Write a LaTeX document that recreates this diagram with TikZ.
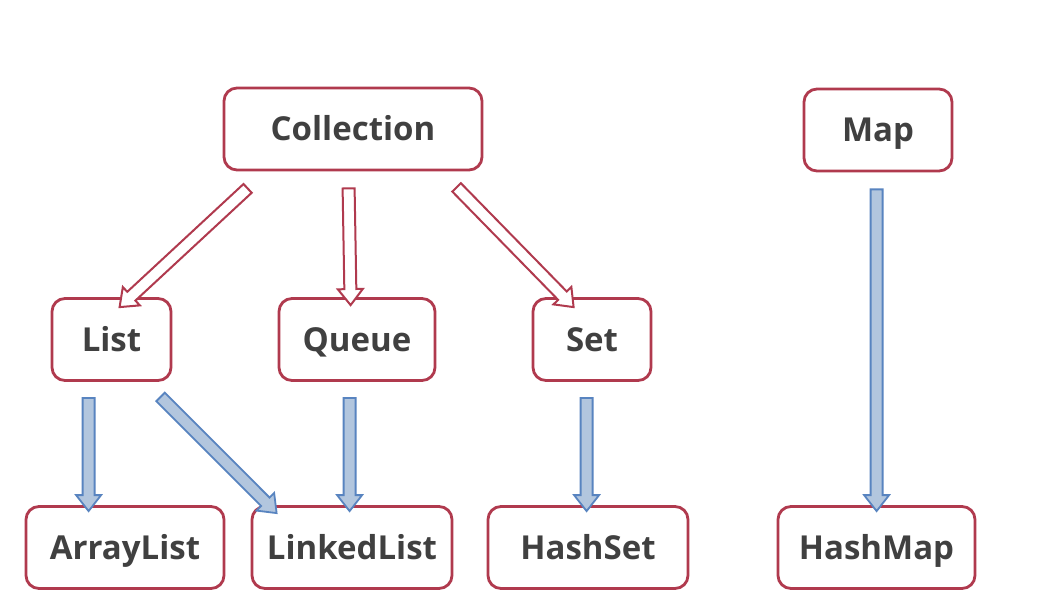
\documentclass[tikz,border=0pt]{standalone}
\usepackage{fontspec}
\setmainfont{Open Sans}
\usetikzlibrary{calc}
\definecolor{boxred}{RGB}{176,58,78}
\definecolor{txt}{RGB}{64,64,64}
\definecolor{bluel}{RGB}{88,132,192}
\definecolor{bluef}{RGB}{178,198,222}
\tikzset{
  cbox/.style={draw=boxred, line width=2.8pt, rounded corners=13pt, fill=white,
    font=\bfseries\fontsize{33}{36}\selectfont, text=txt, minimum height=82pt, inner sep=0pt,
    text height=23.5pt, text depth=0pt},
  redarrow/.style={draw=boxred, line width=2pt, fill=white, line join=miter},
  bluearrow/.style={draw=bluel, line width=1.8pt, fill=bluef, line join=miter}
}
\newcommand{\blockarrow}[3]{%
  \coordinate (tmpC) at ($(#3)!16pt!(#2)$);
  \draw[#1] ($(#2)!6pt!90:(#3)$) -- ($(tmpC)!6pt!90:(#3)$) -- ($(tmpC)!12.5pt!90:(#3)$) -- (#3)
    -- ($(tmpC)!12.5pt!-90:(#3)$) -- ($(tmpC)!6pt!-90:(#3)$) -- ($(#2)!6pt!-90:(#3)$) -- cycle;}
\begin{document}
\begin{tikzpicture}[x=1pt,y=-1pt]
\useasboundingbox[fill=white] (0,0) rectangle (1046,601);
\node[cbox, minimum width=258pt] (coll) at (353,129) {Collection};
\node[cbox, minimum width=148pt] (map) at (878,130) {Map};
\node[cbox, minimum width=119pt] (list) at (111.5,339.5) {List};
\node[cbox, minimum width=156pt] (queue) at (357,339.5) {Queue};
\node[cbox, minimum width=118pt] (set) at (592,339.5) {Set};
\node[cbox, minimum width=198pt] (alist) at (125,547.5) {ArrayList};
\node[cbox, minimum width=200pt] (llist) at (352,547.5) {LinkedList};
\node[cbox, minimum width=200pt] (hset) at (588,547.5) {HashSet};
\node[cbox, minimum width=197pt] (hmap) at (876.5,547.5) {HashMap};
% connector end points
\coordinate (c1s) at ($(coll.south west)+(25,17)$);
\coordinate (c1e) at ($(list.north west)+(69,10)$);
\coordinate (c2s) at ($(coll.south west)+(126,17)$);
\coordinate (c2e) at ($(queue.north west)+(73,8)$);
\coordinate (c3s) at ($(coll.south west)+(234,16)$);
\coordinate (c3e) at ($(set.north west)+(42,10)$);
\coordinate (l1s) at ($(list.south west)+(38,16)$);
\coordinate (l1e) at ($(alist.north west)+(64,6)$);
\coordinate (l2s) at ($(list.south west)+(110,15)$);
\coordinate (l2e) at ($(llist.north west)+(26,8)$);
\coordinate (q1s) at ($(queue.south west)+(72,16)$);
\coordinate (q1e) at ($(llist.north west)+(99,6)$);
\coordinate (s1s) at ($(set.south west)+(55,16)$);
\coordinate (s1e) at ($(hset.north west)+(100,6)$);
\coordinate (m1s) at ($(map.south west)+(74,17)$);
\coordinate (m1e) at ($(hmap.north west)+(100,6)$);
\blockarrow{redarrow}{c1s}{c1e}
\blockarrow{redarrow}{c2s}{c2e}
\blockarrow{redarrow}{c3s}{c3e}
\blockarrow{bluearrow}{l1s}{l1e}
\blockarrow{bluearrow}{l2s}{l2e}
\blockarrow{bluearrow}{q1s}{q1e}
\blockarrow{bluearrow}{s1s}{s1e}
\blockarrow{bluearrow}{m1s}{m1e}
\end{tikzpicture}
\end{document}
